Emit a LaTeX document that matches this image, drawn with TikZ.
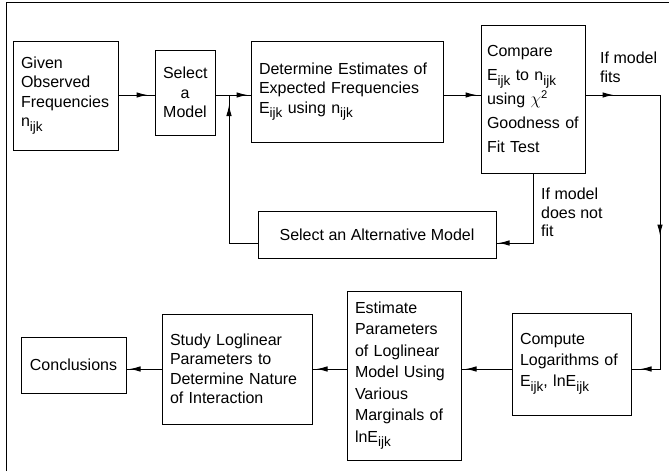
\documentclass[tikz,border=0pt]{standalone}
\usepackage{fontspec}
\setmainfont{Liberation Sans}
\usetikzlibrary{decorations.markings,arrows.meta}
\newcommand{\ijk}{\raisebox{-4.5pt}{\fontsize{13.5}{13.5}\selectfont ijk}}

\tikzset{
  blockbox/.style={draw, line width=1pt, inner xsep=8pt, inner ysep=0pt, font=\fontsize{16}{19.5}\selectfont},
  flowat/.style={postaction={decorate,decoration={markings,mark=at position #1 with {\arrow{Latex[length=11pt,width=5.5pt]}}}}},
  flow/.style={line width=1pt},
  note/.style={anchor=north west, inner sep=0pt, align=left, font=\fontsize{16}{18.5}\selectfont},
}

\begin{document}
\begin{tikzpicture}[x=1pt,y=-1pt]
            \useasboundingbox (0,0) rectangle (669,471);
            \draw[line width=1pt] (6,471) -- (6,2) -- (669,2);

            % top row
            \node[blockbox, text width=89pt, minimum height=109pt, align=left] (given) at (65.5,95.5) {Given\\Observed\\Frequencies\\n\ijk};
            \node[blockbox, text width=44pt, minimum height=85pt, align=center] (select) at (185,92.5) {Select\\a\\Model};
            \node[blockbox, text width=176pt, minimum height=101pt, align=left] (determine) at (347,91.5) {Determine Estimates of\\Expected Frequencies\\E\ijk{} using n\ijk};
            \node[blockbox, inner xsep=6pt, text width=92pt, minimum height=148pt, align=left, font=\fontsize{16}{24}\selectfont] (compare) at (533,99) {Compare\\E\ijk{} to n\ijk\\using $\chi^{\mathrm{2}}$\\Goodness of\\Fit Test};
            \node[blockbox, minimum width=238pt, minimum height=47pt] (alternative) at (377,234.5) {Select an Alternative Model};

            % bottom row
            \node[blockbox, minimum width=105pt, minimum height=56pt] (conclusions) at (73.5,365) {Conclusions};
            \node[blockbox, text width=134pt, minimum height=110pt, align=left] (study) at (237,369) {Study Loglinear\\Parameters to\\Determine Nature\\of Interaction};
            \node[blockbox, text width=98pt, minimum height=169pt, align=left, font=\fontsize{16}{21.5}\selectfont] (estimate) at (404,375.5) {Estimate\\Parameters\\of Loglinear\\Model Using\\Various\\Marginals of\\lnE\ijk};
            \node[blockbox, text width=103pt, minimum height=102pt, align=left, font=\fontsize{16}{21}\selectfont] (compute) at (571.5,364) {Compute\\Logarithms of\\E\ijk, lnE\ijk};

            \node[note] (fitslabel) at (600,52) {If model\\fits};
            \node[note] (notfitlabel) at (541,188) {If model\\does not\\fit};

            \coordinate (rowtop) at (0,95);
            \coordinate (rowbot) at (0,369);
            \coordinate (rtop) at (660,95);
            \coordinate (fbright) at (533,243);
            \coordinate (fbleft) at (229,243);
            \coordinate (junction) at (229,95);

            \draw[flow, flowat=-7pt] (given.east |- rowtop) -- (select.west |- rowtop);
            \draw[flow, flowat=-3pt] (select.east |- rowtop) -- (determine.west |- rowtop);
            \draw[flow, flowat=-4pt] (determine.east |- rowtop) -- (compare.west |- rowtop);
            \draw[flow, flowat=28pt, flowat=215pt, flowat=-9pt] (compare.east |- rowtop) -- (rtop) -- (rtop |- rowbot) -- (compute.east |- rowbot);
            %\draw[flow] (compare.east |- rowtop) -- (rtop);
            \draw[flow, flowat=-2pt] (compare.south) -- (fbright) -- (alternative.east |- fbright);
            \draw[flow, flowat=-10pt] (alternative.west |- fbleft) -- (fbleft) -- (junction);
            \draw[flow, flowat=-4pt] (compute.west |- rowbot) -- (estimate.east |- rowbot);
            \draw[flow, flowat=-4pt] (estimate.west |- rowbot) -- (study.east |- rowbot);
            \draw[flow, flowat=-3pt] (study.west |- rowbot) -- (conclusions.east |- rowbot);

        \end{tikzpicture}
\end{document}
